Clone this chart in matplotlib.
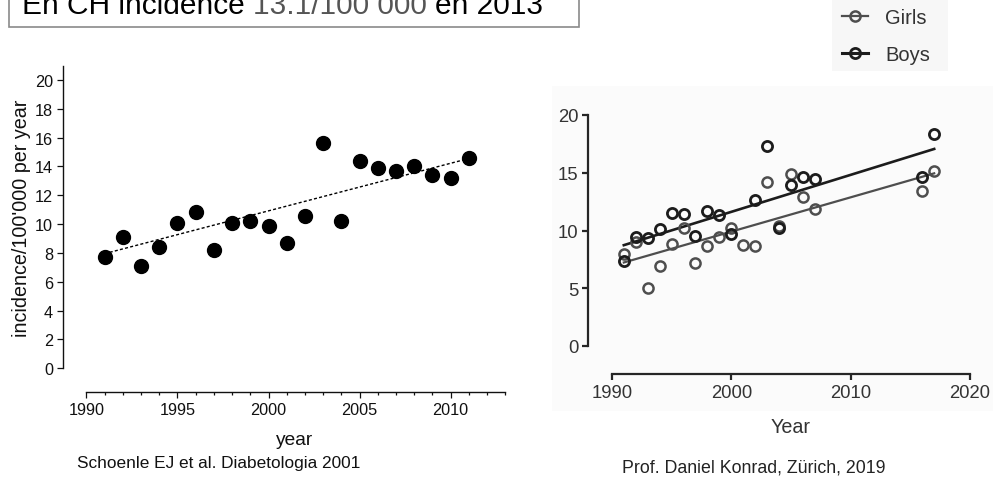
import matplotlib
matplotlib.use("Agg")
import matplotlib.pyplot as plt
import numpy as np
from matplotlib.patches import Rectangle
from matplotlib.lines import Line2D

plt.rcParams['font.family'] = ['Liberation Sans', 'DejaVu Sans']

# ---------------- data ----------------
# Left chart (Schoenle et al.)
years_left = [1991, 1992, 1993, 1994, 1995, 1996, 1997, 1998, 1999, 2000, 2001,
              2002, 2003, 2004, 2005, 2006, 2007, 2008, 2009, 2010, 2011]
incidence_left = [7.7, 9.13, 7.12, 8.39, 10.06, 10.87, 8.21, 10.06, 10.24, 9.85, 8.67,
                  10.59, 15.6, 10.24, 14.36, 13.87, 13.66, 14.06, 13.43, 13.18, 14.59]
trend_left_years = [1991, 2011]
trend_left_vals = [7.95, 14.55]
left_yticks = list(range(0, 21, 2))
left_xticks = [1990, 1995, 2000, 2005, 2010]

# Right chart (Konrad 2019)
years_girls = [1991, 1992, 1993, 1994, 1995, 1996, 1997, 1998, 1999, 2000, 2001,
               2002, 2003, 2004, 2005, 2006, 2007, 2016, 2017]
girls = [7.97, 9.03, 5.02, 6.95, 8.83, 10.19, 7.19, 8.68, 9.41, 10.19, 8.77,
         8.68, 14.17, 10.42, 14.89, 12.93, 11.86, 13.45, 15.18]
years_boys = [1991, 1992, 1993, 1994, 1995, 1996, 1997, 1998, 1999, 2000,
              2002, 2003, 2004, 2005, 2006, 2007, 2016, 2017]
boys = [7.39, 9.41, 9.32, 10.13, 11.5, 11.43, 9.5, 11.72, 11.34, 9.7,
        12.67, 17.29, 10.19, 13.94, 14.6, 14.46, 14.66, 18.35]
trend_years = [1991, 2017]
trend_girls = [7.23, 14.95]
trend_boys = [8.73, 17.06]
right_yticks = [0, 5, 10, 15, 20]
right_xticks = [1990, 2000, 2010, 2020]

W, H = 993, 481
fig = plt.figure(figsize=(W / 100, H / 100), dpi=100)
fig.patch.set_facecolor('white')


def fx(px):
    return px / W


def fy(py):
    return 1 - py / H


# faint scan background on the right
fig.patches.append(Rectangle((fx(552), fy(412)), fx(993) - fx(552), fy(87) - fy(412),
                             transform=fig.transFigure, facecolor='#fbfbfb',
                             edgecolor='none', zorder=-2))
# legend background
fig.patches.append(Rectangle((fx(832), fy(72)), fx(948) - fx(832), fy(0) - fy(72),
                             transform=fig.transFigure, facecolor='#f7f7f7',
                             edgecolor='none', zorder=-2))

# ---------------- title box ----------------
fig.patches.append(Rectangle((fx(9), fy(28)), fx(579) - fx(9), fy(-10) - fy(28),
                             transform=fig.transFigure, facecolor='white',
                             edgecolor='#8a8a8a', linewidth=1.2, zorder=1))
title_fs = 21.5
parts = [("En CH incidence", 'black'), ("13.1/100 000", '#555555'), ("en 2013", 'black')]
fig.canvas.draw()
renderer = fig.canvas.get_renderer()


def text_width(s):
    t = fig.text(0, 0, s, fontsize=title_fs)
    w = t.get_window_extent(renderer).width
    t.remove()
    return w


space_w = text_width("x x") - text_width("xx")
xpos = 22
for s, c in parts:
    fig.text(fx(xpos), fy(14), s, fontsize=title_fs, color=c, va='baseline', ha='left', zorder=2)
    xpos += text_width(s) + space_w

# ---------------- left chart ----------------
l_left, l_right = 62.7, 505.3
l_bottom, l_top = 369.3, 66.5
ax1 = fig.add_axes([fx(l_left), fy(l_bottom), fx(l_right) - fx(l_left), fy(l_top) - fy(l_bottom)])
ax1.set_facecolor('none')
ax1.set_zorder(3)
ax1.set_xlim(1988.7, 2013)
ax1.set_ylim(0, 21)
ax1.plot(trend_left_years, trend_left_vals, linestyle=(0, (2.2, 1.6)), color='black', linewidth=1.0, zorder=2)
ax1.plot(years_left, incidence_left, 'o', color='black', markersize=10, zorder=3, clip_on=False)
for sp in ['top', 'right']:
    ax1.spines[sp].set_visible(False)
ax1.spines['left'].set_bounds(0, 21)
ax1.spines['bottom'].set_bounds(1990, 2013)
ax1.spines['bottom'].set_position(('outward', 24 * 0.72))
for sp in ['left', 'bottom']:
    ax1.spines[sp].set_linewidth(1.0)
    ax1.spines[sp].set_color('#111111')
ax1.set_yticks(left_yticks)
ax1.set_xticks(left_xticks)
ax1.set_xticks(list(range(1991, 2014)), minor=True)
ax1.tick_params(axis='both', which='major', direction='out', length=4.5, width=0.9,
                labelsize=11.7, colors='#111111', pad=2.5)
ax1.tick_params(axis='x', which='minor', direction='out', length=2.5, width=0.9, color='#111111')
ax1.tick_params(axis='y', which='minor', left=False)

fig.text(fx(22), fy(218), "incidence/100'000 per year", rotation=90, fontsize=14.2,
         ha='center', va='center', color='#111111')
fig.text(fx(295), fy(445), "year", fontsize=13.8, ha='center', va='baseline', color='#111111')
fig.text(fx(77), fy(468), "Schoenle EJ et al. Diabetologia 2001", fontsize=12.4,
         ha='left', va='baseline', color='#111111')

# ---------------- right chart ----------------
r_left, r_right = 588, 970
r_bottom, r_top = 347, 116
ax2 = fig.add_axes([fx(r_left), fy(r_bottom), fx(r_right) - fx(r_left), fy(r_top) - fy(r_bottom)])
ax2.set_facecolor('none')
ax2.set_zorder(3)
ax2.set_xlim(1988, 2020)
ax2.set_ylim(0, 20)
c_boys = '#1c1c1c'
c_girls = '#4e4e4e'
ax2.plot(trend_years, trend_girls, color=c_girls, linewidth=1.6, zorder=2)
ax2.plot(trend_years, trend_boys, color=c_boys, linewidth=1.9, zorder=2)
ax2.plot(years_girls, girls, 'o', markerfacecolor='none', markeredgecolor=c_girls,
         markersize=7.3, markeredgewidth=1.8, zorder=3, clip_on=False)
ax2.plot(years_boys, boys, 'o', markerfacecolor='none', markeredgecolor=c_boys,
         markersize=7.3, markeredgewidth=2.0, zorder=4, clip_on=False)
for sp in ['top', 'right']:
    ax2.spines[sp].set_visible(False)
ax2.spines['left'].set_bounds(0, 20)
ax2.spines['bottom'].set_bounds(1990, 2020)
ax2.spines['bottom'].set_position(('outward', 28 * 0.72))
for sp in ['left', 'bottom']:
    ax2.spines[sp].set_linewidth(1.6)
    ax2.spines[sp].set_color('#262626')
ax2.set_yticks(right_yticks)
ax2.set_xticks(right_xticks)
ax2.tick_params(axis='both', direction='out', length=4.5, width=1.6, color='#262626',
                labelsize=13.3, labelcolor='#333333', pad=2.5)

fig.text(fx(791), fy(433), "Year", fontsize=14.2, ha='center', va='baseline', color='#333333')
fig.text(fx(622), fy(473), "Prof. Daniel Konrad, Zürich, 2019", fontsize=12.8,
         ha='left', va='baseline', color='#222222')

# ---------------- legend ----------------
h_girls = Line2D([], [], color=c_girls, linewidth=1.6, marker='o', markerfacecolor='none',
                 markeredgecolor=c_girls, markersize=7.3, markeredgewidth=1.8)
h_boys = Line2D([], [], color=c_boys, linewidth=2.2, marker='o', markerfacecolor='none',
                markeredgecolor=c_boys, markersize=7.3, markeredgewidth=2.0)
leg = fig.legend([h_girls, h_boys], ['Girls', 'Boys'], loc='upper left',
                 bbox_to_anchor=(fx(840), fy(7)), frameon=False, fontsize=14.5,
                 handlelength=1.3, handletextpad=0.85, labelspacing=0.9,
                 borderaxespad=0, borderpad=0.1)
for t in leg.get_texts():
    t.set_color('#333333')

fig.savefig('out.png', dpi=100, facecolor='white')
